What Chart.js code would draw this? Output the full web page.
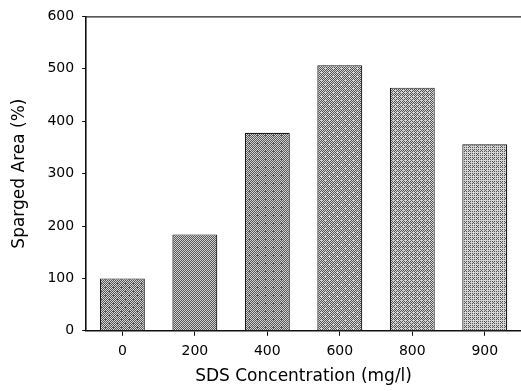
<!DOCTYPE html>
<html>
<head>
<meta charset="utf-8">
<script src="https://cdn.jsdelivr.net/npm/chart.js@4/dist/chart.umd.min.js"></script>
<style>
  html, body { margin: 0; padding: 0; background: #fff; }
  #wrap { width: 521px; height: 391px; }
</style>
</head>
<body>
<div id="wrap"><canvas id="c" width="521" height="391"></canvas></div>
<script>
// data
const concentrations = ["0", "200", "400", "600", "800", "900"];
const spargedArea = [100, 184, 378, 507, 464, 356];
const barTones = [118, 128, 122, 134, 148, 178];   // rough grey level of each stippled bar

// stippled grey fill like the scanned figure (deterministic dither, no randomness)
function stipple(tone) {
  const c = document.createElement("canvas");
  c.width = 8; c.height = 8;
  const g = c.getContext("2d");
  const img = g.createImageData(8, 8);
  const bayer = [0, 32, 8, 40, 2, 34, 10, 42, 48, 16, 56, 24, 50, 18, 58, 26,
    12, 44, 4, 36, 14, 46, 6, 38, 60, 28, 52, 20, 62, 30, 54, 22,
    3, 35, 11, 43, 1, 33, 9, 41, 51, 19, 59, 27, 49, 17, 57, 25,
    15, 47, 7, 39, 13, 45, 5, 37, 63, 31, 55, 23, 61, 29, 53, 21];
  for (let i = 0; i < 64; i++) {
    const v = bayer[i] * 4 < tone ? 212 : 85;
    img.data[i * 4] = img.data[i * 4 + 1] = img.data[i * 4 + 2] = v;
    img.data[i * 4 + 3] = 255;
  }
  g.putImageData(img, 0, 0);
  return g.createPattern(c, "repeat");
}

const fam = "'DejaVu Sans', Verdana, sans-serif";
const tickFont = { family: fam, size: 14 };
const titleFont = { family: fam, size: 17 };

// top frame line only (no right border in the reference)
const topLine = {
  id: "topLine",
  afterDraw(chart) {
    const { ctx, chartArea: a } = chart;
    ctx.save();
    ctx.strokeStyle = "#222";
    ctx.lineWidth = 1.2;
    ctx.beginPath();
    ctx.moveTo(a.left, a.top + 0.5);
    ctx.lineTo(a.right, a.top + 0.5);
    ctx.stroke();
    ctx.restore();
  }
};

new Chart(document.getElementById("c"), {
  type: "bar",
  data: {
    labels: concentrations,
    datasets: [{
      data: spargedArea,
      backgroundColor: barTones.map(stipple),
      borderColor: "#1a1a1a",
      borderWidth: 1.2,
      categoryPercentage: 0.62,
      barPercentage: 1
    }]
  },
  options: {
    responsive: false,
    animation: false,
    layout: { padding: { left: 5, right: 0, top: 9, bottom: 4 } },
    plugins: { legend: { display: false }, tooltip: { enabled: false } },
    scales: {
      x: {
        grid: { display: true, drawOnChartArea: false, offset: false, tickLength: 5, color: "#111" },
        border: { color: "#111", width: 1.6 },
        ticks: { color: "#000", font: tickFont, padding: 7 },
        title: { display: true, text: "SDS Concentration (mg/l)", color: "#000", font: titleFont, padding: { top: 0, bottom: 0 } }
      },
      y: {
        min: 0, max: 600,
        grid: { drawOnChartArea: false, tickLength: 4, color: "#111" },
        border: { color: "#111", width: 1.6 },
        ticks: { stepSize: 100, color: "#000", font: tickFont, padding: 8 },
        title: { display: true, text: "Sparged Area (%)", color: "#000", font: titleFont, padding: { bottom: 10 } }
      }
    }
  },
  plugins: [topLine]
});
</script>
</body>
</html>
